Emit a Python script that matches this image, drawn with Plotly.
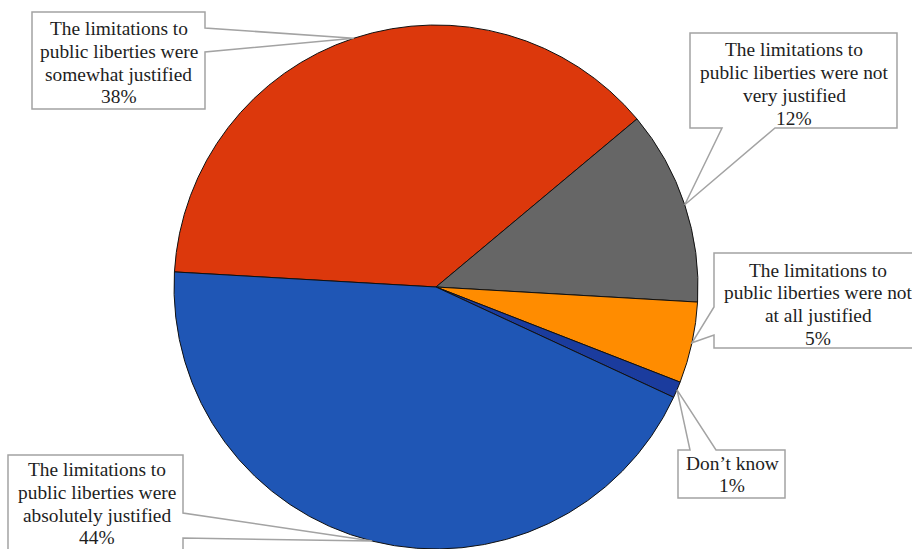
import math
import plotly.graph_objects as go

# ---- data ----
labels = [
    "The limitations to public liberties were somewhat justified",
    "The limitations to public liberties were not very justified",
    "The limitations to public liberties were not at all justified",
    "Don’t know",
    "The limitations to public liberties were absolutely justified",
]
values = [38, 12, 5, 1, 44]
callout_lines = [
    ["The limitations to", "public liberties were", "somewhat justified"],
    ["The limitations to", "public liberties were not", "very justified"],
    ["The limitations to", "public liberties were not", "at all justified"],
    ["Don’t know"],
    ["The limitations to", "public liberties were", "absolutely justified"],
]
colors = ["#DC380C", "#666666", "#FF8C00", "#1B3C9E", "#1F56B5"]

# ---- layout constants (pixels) ----
W, H = 912, 549
CX, CY, R = 436, 287, 262
ROT = -86.7  # start angle of first slice, clockwise from 12 o'clock
LINE_STEP = 22.8
FONT = dict(family="Liberation Serif, Times New Roman, serif", size=19.4, color="#1E1E1E")

# callout boxes: rectangle, side carrying the wedge, wedge span, text centre x and first-line y
boxes = [
    dict(x0=32, y0=12, x1=205, y1=109, side="right", w0=28, w1=52, tx=118.5, ty=28.5),
    dict(x0=690, y0=33, x1=897, y1=128, side="bottom", w0=722, w1=775, tx=794, ty=50),
    dict(x0=714, y0=253, x1=930, y1=348, side="left", w0=307, w1=335, tx=818, ty=270),
    dict(x0=678, y0=450, x1=785, y1=498, side="top", w0=690, w1=716, tx=732, ty=463),
    dict(x0=8, y0=455, x1=183, y1=570, side="right", w0=513, w1=538, tx=97, ty=469.5),
]


def px(x, y):
    return x / W, 1 - y / H


def bubble_path(b, tip):
    x0, y0, x1, y1 = b["x0"], b["y0"], b["x1"], b["y1"]
    w0, w1 = b["w0"], b["w1"]
    s = b["side"]
    if s == "top":
        pts = [(x0, y0), (w0, y0), tip, (w1, y0), (x1, y0), (x1, y1), (x0, y1)]
    elif s == "right":
        pts = [(x0, y0), (x1, y0), (x1, w0), tip, (x1, w1), (x1, y1), (x0, y1)]
    elif s == "bottom":
        pts = [(x0, y0), (x1, y0), (x1, y1), (w1, y1), tip, (w0, y1), (x0, y1)]
    else:
        pts = [(x0, y0), (x1, y0), (x1, y1), (x0, y1), (x0, w1), tip, (x0, w0)]
    p = []
    for i, (x, y) in enumerate(pts):
        u, v = px(x, y)
        p.append(("M" if i == 0 else "L") + f"{u:.5f},{v:.5f}")
    return " ".join(p) + " Z"


fig = go.Figure(
    go.Pie(
        labels=labels,
        values=values,
        sort=False,
        direction="clockwise",
        rotation=ROT,
        marker=dict(colors=colors, line=dict(color="#111111", width=1)),
        textinfo="none",
        textposition="none",
        hoverinfo="label+percent",
        showlegend=False,
        domain=dict(x=[(CX - R) / W, (CX + R) / W], y=[(H - CY - R) / H, (H - CY + R) / H]),
    )
)

total = sum(values)
cum = 0
shapes = []
annotations = []
for i, v in enumerate(values):
    a = math.radians(ROT + 360 * (cum + v / 2) / total)
    cum += v
    tip = (CX + R * math.sin(a), CY - R * math.cos(a))
    b = boxes[i]
    shapes.append(dict(type="path", xref="paper", yref="paper",
                       path=bubble_path(b, tip), fillcolor="white",
                       line=dict(color="#A3A3A3", width=1.5), layer="above"))
    lines = callout_lines[i] + [f"{v}%"]
    for k, line in enumerate(lines):
        u, w = px(b["tx"], b["ty"] + k * LINE_STEP)
        annotations.append(dict(x=u, y=w, xref="paper", yref="paper", text=line,
                                showarrow=False, xanchor="center", yanchor="middle",
                                align="center", font=FONT))

fig.update_layout(
    width=W, height=H,
    margin=dict(l=0, r=0, t=0, b=0, pad=0),
    paper_bgcolor="white",
    plot_bgcolor="white",
    shapes=shapes,
    annotations=annotations,
)

fig.write_html("out.html")
